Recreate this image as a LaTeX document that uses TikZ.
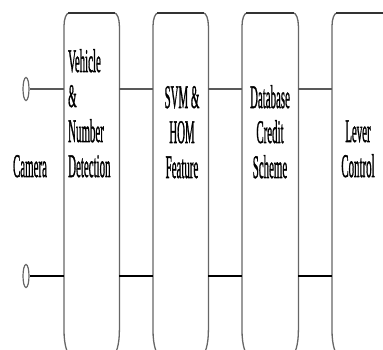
\documentclass[tikz,border=0pt]{standalone}
\usepackage{fontspec}
\setmainfont{Liberation Serif}
\newfontfamily\heavyserif[FakeBold=1.6]{Liberation Serif}
\usetikzlibrary{calc,shapes.geometric}
\tikzset{
  frame/.style={draw=none,inner sep=0pt,minimum width=#1,minimum height=342pt,anchor=north west},
  boxline/.style={draw=black!60,line width=1.3pt},
  topline/.style={draw=black!80,line width=2pt},
  upperwire/.style={draw=black!65,line width=2.4pt},
  lowerwire/.style={draw=black,line width=1.5pt},
  oval/.style={ellipse,draw=black!60,line width=1.2pt,inner sep=0pt,minimum width=6pt,minimum height=23pt},
  lbl/.style={inner sep=0pt,text=black,font=\heavyserif\fontsize{33}{35}\selectfont}
}
\newcommand{\myboxoutline}[1]{%
  \draw[boxline] ($(#1.north west)+(0,-13)$) arc[start angle=180,end angle=90,x radius=5,y radius=13]
    -- ($(#1.north east)+(-5,0)$) arc[start angle=90,end angle=0,x radius=5,y radius=13]
    -- ($(#1.south east)+(0,25)$) arc[start angle=0,end angle=-90,x radius=7,y radius=25]
    -- ($(#1.south west)+(7,0)$) arc[start angle=270,end angle=180,x radius=7,y radius=25]
    -- cycle;
  \draw[topline] ($(#1.north west)+(4,0)$) -- ($(#1.north east)+(-4,0)$);
}
\newcommand{\sq}[1]{\scalebox{0.33}[1]{#1}}
\begin{document}
\begin{tikzpicture}[x=1pt,y=1pt]
\useasboundingbox (0,0) rectangle (383,350);
\clip (0,0) rectangle (383,350);
\fill[white] (0,0) rectangle (383,350);
% boxes
\node[frame=55pt] (b1) at (64,337) {};
\node[frame=55pt] (b2) at (153,337) {};
\node[frame=56pt] (b3) at (242,337) {};
\node[frame=55pt] (b4) at (332,337) {};
\myboxoutline{b1}
\myboxoutline{b2}
\myboxoutline{b3}
\myboxoutline{b4}
% terminals
\node[oval] (o1) at (26,261) {};
\node[oval] (o2) at (26,74) {};
% wires
\draw[upperwire] (o1.east) -- (o1.east -| b1.west);
\draw[upperwire] (b1.east |- o1) -- (b2.west |- o1);
\draw[upperwire] (b2.east |- o1) -- (b3.west |- o1);
\draw[upperwire] (b3.east |- o1) -- (b4.west |- o1);
\draw[lowerwire] (o2.east) -- (o2.east -| b1.west);
\draw[lowerwire] (b1.east |- o2) -- (b2.west |- o2);
\draw[lowerwire] (b2.east |- o2) -- (b3.west |- o2);
\draw[lowerwire] (b3.east |- o2) -- (b4.west |- o2);
% labels
\node[lbl,anchor=base] (cam) at (30,173) {\sq{Camera}};
\node[lbl,anchor=base west] (t1) at (68,278) {\sq{\begin{tabular}[t]{@{}l@{}}Vehicle\\ \&\\ Number\\ Detection\end{tabular}}};
\node[lbl,anchor=base] (t2) at (182,242) {\sq{\begin{tabular}[t]{@{}c@{}}SVM \&\\ HOM\\ Feature\end{tabular}}};
\node[lbl,anchor=base] (t3) at (270,242) {\sq{\begin{tabular}[t]{@{}c@{}}Database\\ Credit\\ Scheme\end{tabular}}};
\node[lbl,anchor=base] (t4) at (358,208) {\sq{\begin{tabular}[t]{@{}c@{}}Lever\\ Control\end{tabular}}};
\end{tikzpicture}
\end{document}
